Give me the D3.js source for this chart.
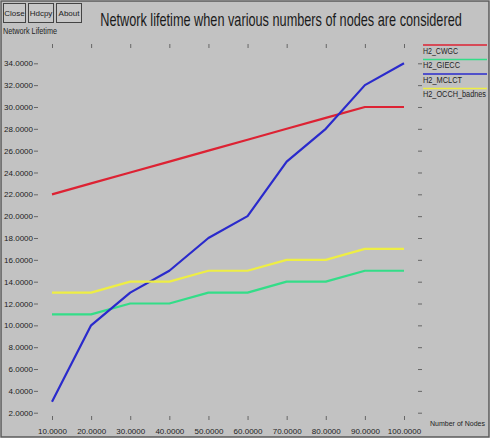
<!DOCTYPE html>
<html>
<head>
<meta charset="utf-8">
<script src="https://cdn.jsdelivr.net/npm/d3@7"></script>
<style>
  body { margin: 0; background: #fff; }
  svg { display: block; font-family: "Liberation Sans", Arial, sans-serif; }
</style>
</head>
<body>
<div id="chart"></div>
<script>
// data
const nodes = [10, 20, 30, 40, 50, 60, 70, 80, 90, 100];
const cwgc = [22, 23, 24, 25, 26, 27, 28, 29, 30, 30];
const giecc = [11, 11, 12, 12, 13, 13, 14, 14, 15, 15];
const mclct = [3, 10, 13, 15, 18, 20, 25, 28, 32, 34];
const occh = [13, 13, 14, 14, 15, 15, 16, 16, 17, 17];
const seriesNames = ["H2_CWGC", "H2_GIECC", "H2_MCLCT", "H2_OCCH_badnes"];
const seriesColors = ["#dd2233", "#33dd88", "#2a2acc", "#eeee44"];
const yTicks = d3.range(2, 35, 2);
const buttons = ["Close", "Hdcpy", "About"];

const series = [cwgc, giecc, mclct, occh];

const width = 495;
const height = 442;

const svg = d3.select("#chart").append("svg")
  .attr("width", width)
  .attr("height", height);

// grey panel
svg.append("rect")
  .attr("x", 1).attr("y", 1)
  .attr("width", 488).attr("height", 436)
  .attr("fill", "#c2c2c2")
  .attr("stroke", "#5a5a5a")
  .attr("stroke-width", 1.5);

// buttons
const btnX = [3, 28, 56];
const btnW = [22, 25, 25];
buttons.forEach((b, i) => {
  svg.append("rect")
    .attr("x", btnX[i] + 0.5).attr("y", 3.5)
    .attr("width", btnW[i]).attr("height", 19)
    .attr("fill", "#c8c8c8")
    .attr("stroke", "#444");
  svg.append("text")
    .attr("x", btnX[i] + btnW[i] / 2 + 0.5)
    .attr("y", 16)
    .attr("text-anchor", "middle")
    .attr("font-size", 8)
    .attr("fill", "#222")
    .text(b);
});

svg.append("text")
  .attr("x", 3).attr("y", 34)
  .attr("font-size", 8.5)
  .attr("fill", "#222")
  .attr("textLength", 54)
  .attr("lengthAdjust", "spacingAndGlyphs")
  .text("Network Lifetime");

// title: natural width squeezed horizontally to the span seen in the picture
const title = svg.append("text")
  .attr("x", 0).attr("y", 0)
  .attr("text-anchor", "middle")
  .attr("font-size", 17.5)
  .attr("fill", "#1a1a1a")
  .text("Network lifetime when various numbers of nodes are considered");
const tw = title.node().getComputedTextLength();
title.attr("transform", `translate(281,26) scale(${362 / tw},1)`);

const x = d3.scaleLinear().domain([10, 100]).range([52, 404]);
const y = d3.scaleLinear().domain([2, 34]).range([412.7, 63.3]);

function styleAxis(g) {
  g.select(".domain").remove();
  g.selectAll(".tick line").attr("stroke", "#666");
  g.selectAll("text")
    .attr("fill", "#222")
    .attr("font-size", 8)
    .attr("font-family", "Liberation Sans, Arial, sans-serif");
}

// left axis
svg.append("g")
  .attr("transform", "translate(38,0)")
  .call(d3.axisLeft(y).tickValues(yTicks).tickSize(4).tickPadding(1).tickFormat(d3.format(".4f")))
  .call(styleAxis);

// right axis ticks
svg.append("g")
  .attr("transform", "translate(418,0)")
  .call(d3.axisRight(y).tickValues(yTicks).tickSize(4).tickFormat(""))
  .call(styleAxis);

// bottom axis
svg.append("g")
  .attr("transform", "translate(0,416)")
  .call(d3.axisBottom(x).tickValues(nodes).tickSize(4).tickPadding(8).tickFormat(d3.format(".4f")))
  .call(styleAxis);

// top axis ticks
svg.append("g")
  .attr("transform", "translate(0,44)")
  .call(d3.axisBottom(x).tickValues(nodes).tickSize(4).tickFormat(""))
  .call(styleAxis);

svg.append("text")
  .attr("x", 430).attr("y", 426)
  .attr("font-size", 8)
  .attr("fill", "#222")
  .attr("textLength", 55)
  .attr("lengthAdjust", "spacingAndGlyphs")
  .text("Number of Nodes");

// lines
const line = d3.line()
  .x((d, i) => x(nodes[i]))
  .y(d => y(d));

series.forEach((s, i) => {
  svg.append("path")
    .datum(s)
    .attr("fill", "none")
    .attr("stroke", seriesColors[i])
    .attr("stroke-width", 2.2)
    .attr("stroke-linejoin", "round")
    .attr("d", line);
});

// legend
const legendW = [35, 37, 39, 63];
const legend = svg.append("g");
seriesNames.forEach((name, i) => {
  const ly = 45 + i * 14.5;
  legend.append("line")
    .attr("x1", 423).attr("x2", 487)
    .attr("y1", ly).attr("y2", ly)
    .attr("stroke", seriesColors[i])
    .attr("stroke-width", 1.5);
  legend.append("text")
    .attr("x", 423).attr("y", ly + 8.5)
    .attr("font-size", 8.5)
    .attr("fill", "#222")
    .attr("textLength", legendW[i])
    .attr("lengthAdjust", "spacingAndGlyphs")
    .text(name);
});
</script>
</body>
</html>
